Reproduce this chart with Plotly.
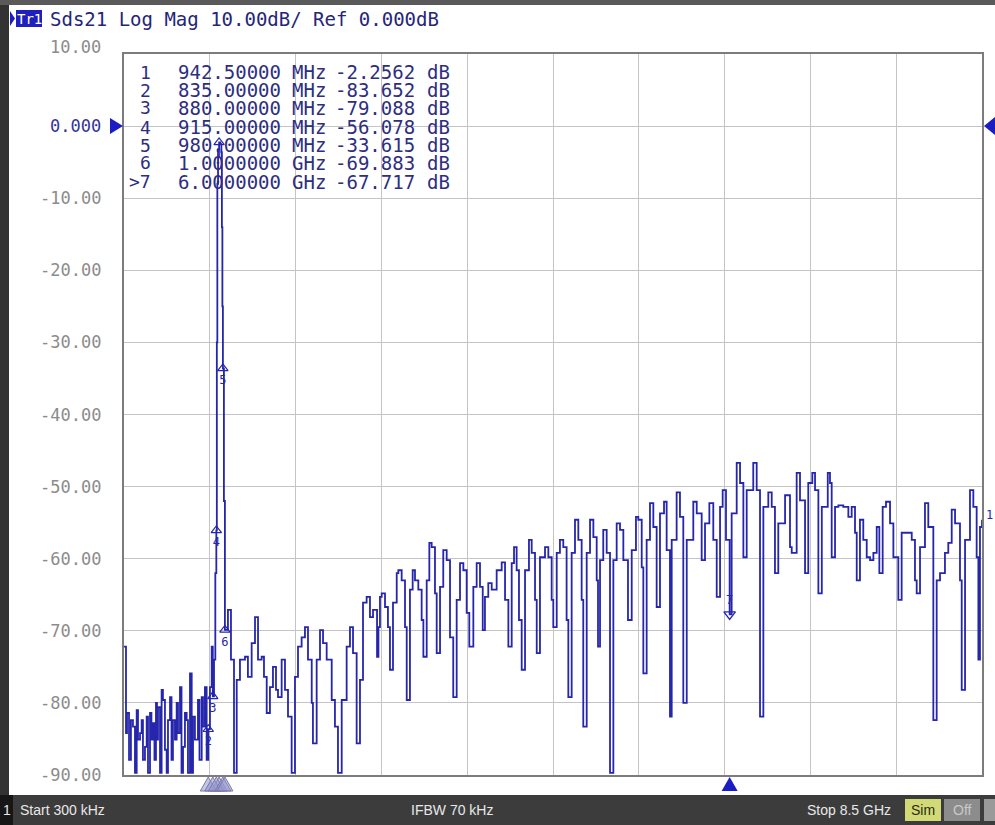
import plotly.graph_objects as go

# ---------------- data ----------------
start_ghz = 0.0003
stop_ghz = 8.5

freq_ghz = [
    0.0003, 0.010, 0.020, 0.030, 0.050, 0.069, 0.089, 0.109, 0.126, 0.139,
    0.159, 0.175, 0.188, 0.208, 0.225, 0.238, 0.258, 0.272, 0.287, 0.302,
    0.317, 0.327, 0.337, 0.357, 0.373, 0.386, 0.406, 0.423, 0.436, 0.456,
    0.471, 0.485, 0.505, 0.522, 0.535, 0.555, 0.570, 0.585, 0.604, 0.621,
    0.634, 0.654, 0.671, 0.684, 0.703, 0.733, 0.748, 0.770, 0.783, 0.802,
    0.819, 0.835, 0.852, 0.869, 0.880, 0.892, 0.905, 0.915, 0.920, 0.925,
    0.932, 0.9425, 0.955, 0.965, 0.970, 0.975, 0.980, 0.990, 1.000,
    1.030, 1.060, 1.090, 1.117, 1.149, 1.199, 1.228, 1.265, 1.298, 1.328,
    1.364, 1.387, 1.414, 1.446, 1.476, 1.506, 1.526, 1.562, 1.595, 1.625,
    1.661, 1.694, 1.724, 1.760, 1.793, 1.823, 1.860, 1.872, 1.909, 1.942,
    1.972, 2.008, 2.058, 2.090, 2.120, 2.157, 2.206, 2.239, 2.269, 2.305,
    2.338, 2.368, 2.404, 2.437,
    2.467, 2.507, 2.521, 2.536, 2.553, 2.586, 2.615, 2.635, 2.665, 2.702,
    2.718, 2.751, 2.784, 2.801, 2.833, 2.860, 2.883, 2.916, 2.949, 2.966,
    2.999, 3.025, 3.048, 3.081, 3.098, 3.131, 3.163, 3.197, 3.230, 3.262,
    3.296, 3.329, 3.362, 3.395, 3.421, 3.461, 3.494, 3.527, 3.554, 3.576,
    3.609, 3.643, 3.692, 3.742, 3.775, 3.808, 3.841, 3.864, 3.890, 3.913,
    3.940, 3.973, 4.012, 4.039, 4.072, 4.089, 4.121, 4.171, 4.204, 4.237,
    4.253, 4.287, 4.319, 4.352, 4.385, 4.402, 4.435, 4.468, 4.501, 4.534,
    4.550, 4.584, 4.617, 4.650, 4.683, 4.696, 4.716, 4.748, 4.782, 4.815,
    4.848, 4.881, 4.914, 4.947, 4.993,
    5.030, 5.072, 5.095, 5.129, 5.145, 5.178, 5.211, 5.244, 5.277, 5.310,
    5.350, 5.376, 5.409, 5.426, 5.475, 5.508, 5.541, 5.575, 5.640, 5.674,
    5.723, 5.756, 5.799, 5.838, 5.872, 5.905, 5.931, 5.964, 6.000, 6.020,
    6.070, 6.103, 6.136, 6.169, 6.234, 6.268, 6.301, 6.334, 6.383, 6.417,
    6.449, 6.482, 6.549, 6.598, 6.615, 6.664, 6.697, 6.747, 6.779, 6.819,
    6.846, 6.879, 6.913, 6.972, 6.994, 7.011, 7.044, 7.077, 7.126, 7.176,
    7.209, 7.242, 7.259, 7.291, 7.324, 7.358, 7.391, 7.424, 7.457, 7.483,
    7.516, 7.549, 7.589, 7.622, 7.671, 7.704, 7.770, 7.804, 7.836, 7.853,
    7.886, 7.935, 7.968, 8.018, 8.051, 8.084, 8.133, 8.166, 8.200, 8.233,
    8.282, 8.299, 8.332, 8.381, 8.414, 8.447, 8.464, 8.480, 8.500,
]

s21_db = [
    -72.2, -72.2, -84.2, -81.4, -87.9, -82.4, -83.3, -89.7, -81.0, -85.1,
    -84.2, -82.4, -87.9, -86.1, -81.9, -89.7, -81.4, -85.1, -82.8, -87.9,
    -80.0, -85.1, -80.6, -89.7, -78.2, -79.6, -86.5, -89.7, -82.4, -79.2,
    -87.9, -82.4, -85.1, -80.0, -84.2, -77.8, -89.7, -86.1, -81.4, -82.4,
    -89.7, -75.9, -89.7, -81.9, -85.1, -79.6, -87.9, -79.2, -83.3, -77.8,
    -87.9, -83.65, -77.8, -72.2, -79.09, -74.0, -62.0, -56.08, -30.0, -8.0,
    -3.2, -2.26, -2.5, -3.6, -14.0, -25.0, -33.62, -52.0, -69.88,
    -67.1, -74.0, -89.7, -76.8, -74.0, -73.6, -76.4, -71.7, -68.1, -74.0,
    -73.6, -76.4, -81.4, -77.8, -75.0, -78.2, -79.2, -74.0, -78.2, -81.9,
    -89.7, -76.4, -72.2, -70.9, -69.5, -74.0, -80.0, -85.6, -74.0, -69.9,
    -71.7, -74.0, -79.6, -83.3, -89.7, -79.6, -72.2, -69.5, -73.1, -85.6,
    -76.8, -66.1, -65.3, -68.1,
    -67.1, -73.6, -69.5, -65.3, -64.8, -66.7, -69.5, -75.4, -66.1, -62.0,
    -61.6, -63.0, -69.5, -79.6, -64.3, -61.6, -63.0, -64.3, -68.5, -73.6,
    -63.0, -57.8, -58.4, -64.8, -73.1, -63.9, -58.8, -60.2, -70.9, -79.2,
    -65.7, -60.6, -61.6, -67.5, -72.2, -63.9, -60.6, -63.9, -69.9, -65.3,
    -63.4, -64.3, -61.6, -60.5, -65.7, -72.2, -60.6, -58.4, -61.6, -68.5,
    -75.4, -61.6, -57.4, -59.2, -65.7, -73.1, -59.8, -58.4, -59.8, -65.7,
    -69.5, -59.2, -57.4, -58.4, -68.5, -79.2, -59.2, -54.6, -57.4, -65.7,
    -83.3, -59.2, -54.6, -57.0, -63.0, -72.2, -60.2, -56.0, -59.2, -89.7,
    -60.2, -55.1, -56.0, -60.2, -68.5,
    -58.8, -54.2, -54.6, -61.2, -75.9, -57.4, -52.3, -55.6, -66.7, -53.7,
    -52.1, -58.8, -81.9, -57.4, -50.8, -54.2, -80.0, -57.4, -52.1, -53.7,
    -60.2, -55.1, -52.3, -57.4, -65.3, -52.8, -50.5, -57.4, -67.72, -53.7,
    -46.7, -49.5, -59.8, -50.5, -46.7, -50.5, -81.9, -52.8, -50.8, -52.8,
    -62.0, -55.1, -51.2, -58.4, -59.2, -48.1, -51.9, -62.0, -49.5, -48.1,
    -50.5, -64.8, -52.8, -48.1, -49.5, -59.8, -52.8, -52.6, -52.8, -54.2,
    -52.8, -56.4, -63.0, -54.6, -57.4, -59.8, -60.2, -59.2, -55.6, -62.0,
    -52.8, -52.1, -55.1, -59.8, -65.7, -56.4, -56.4, -57.4, -63.0, -64.8,
    -58.4, -52.3, -55.6, -82.4, -63.0, -62.0, -59.2, -57.8, -53.2, -55.1,
    -63.0, -78.2, -57.4, -50.5, -52.8, -59.8, -74.0, -55.6, -54.6,
]

marker_ids = ["1", "2", "3", "4", "5", "6", "7"]
marker_ghz = [0.9425, 0.835, 0.880, 0.915, 0.980, 1.000, 6.000]
marker_db = [-2.2562, -83.652, -79.088, -56.078, -33.615, -69.883, -67.717]
marker_freq_text = ["942.50000", "835.00000", "880.00000", "915.00000",
                    "980.00000", "1.0000000", "6.0000000"]
marker_unit = ["MHz", "MHz", "MHz", "MHz", "MHz", "GHz", "GHz"]
marker_val_text = ["-2.2562", "-83.652", "-79.088", "-56.078",
                   "-33.615", "-69.883", "-67.717"]

y_ticks = [10, 0, -10, -20, -30, -40, -50, -60, -70, -80, -90]
y_tick_text = ["10.00", "0.000", "-10.00", "-20.00", "-30.00", "-40.00",
               "-50.00", "-60.00", "-70.00", "-80.00", "-90.00"]

header_text = "Sds21 Log Mag 10.00dB/ Ref 0.000dB"
status_start = "Start 300 kHz"
status_ifbw = "IFBW 70 kHz"
status_stop = "Stop 8.5 GHz"

# ---------------- layout helpers ----------------
W, H = 995, 825
PL, PR, PT, PB = 124, 982, 54, 775
GHZ_PER_PX = (stop_ghz - start_ghz) / (PR - PL)


def px(x):
    return x / W


def py(y):
    return 1 - y / H


TRACE = "#2626ac"
MONO = "DejaVu Sans Mono"
SANS = "Liberation Sans"

fig = go.Figure()

fig.add_trace(go.Scatter(
    x=freq_ghz, y=s21_db, mode="lines",
    line=dict(color=TRACE, width=1.8, shape="hv"),
    hoverinfo="skip", showlegend=False))

# markers on trace (1-6: triangle, number below)
fig.add_trace(go.Scatter(
    x=marker_ghz[:6], y=marker_db[:6], mode="markers+text",
    marker=dict(symbol="triangle-up-open", size=9, color=TRACE,
                line=dict(width=1.2, color=TRACE)),
    text=marker_ids[:6], textposition="bottom center",
    textfont=dict(family=MONO, size=12, color=TRACE),
    hoverinfo="skip", showlegend=False))
# active marker 7: triangle down, number above
fig.add_trace(go.Scatter(
    x=marker_ghz[6:], y=marker_db[6:], mode="markers+text",
    marker=dict(symbol="triangle-down-open", size=10, color=TRACE,
                line=dict(width=1.4, color=TRACE)),
    text=marker_ids[6:], textposition="top center",
    textfont=dict(family=MONO, size=12, color=TRACE),
    hoverinfo="skip", showlegend=False))

step = (stop_ghz - start_ghz) / 10
grid_x = [start_ghz + i * step for i in range(11)]

fig.update_layout(
    width=W, height=H,
    margin=dict(l=0, r=0, t=0, b=0),
    paper_bgcolor="white", plot_bgcolor="white",
    showlegend=False,
    xaxis=dict(domain=[px(PL), px(PR)], range=[start_ghz, stop_ghz],
               tickvals=grid_x, showticklabels=False, ticks="",
               showgrid=True, gridcolor="#c4c4c4", gridwidth=1,
               zeroline=False, showline=True, linecolor="#7c7c7c",
               linewidth=1.5, mirror=True),
    yaxis=dict(domain=[py(PB), py(PT)], range=[-90, 10],
               tickvals=y_ticks, showticklabels=False, ticks="",
               showgrid=True, gridcolor="#c4c4c4", gridwidth=1,
               zeroline=False, showline=True, linecolor="#7c7c7c",
               linewidth=1.5, mirror=True),
)

shapes = []
annotations = []


def rect(x0, y0, x1, y1, color, line=None):
    shapes.append(dict(type="rect", xref="paper", yref="paper",
                       x0=px(x0), x1=px(x1), y0=py(y1), y1=py(y0),
                       fillcolor=color,
                       line=dict(width=0 if line is None else 1,
                                 color=line or color), layer="above"))


def tri(points, color):
    path = "M " + " L ".join(f"{px(x)},{py(y)}" for x, y in points) + " Z"
    shapes.append(dict(type="path", xref="paper", yref="paper", path=path,
                       fillcolor=color, line=dict(width=0), layer="above"))


def text(x, y, s, size, color, family=MONO, anchor="left", xref="paper",
         yref="paper", yshift=0, bg=None):
    a = dict(x=px(x) if xref == "paper" else x,
             y=py(y) if yref == "paper" else y,
             xref=xref, yref=yref, text=s, showarrow=False,
             xanchor=anchor, yanchor="middle", yshift=yshift,
             font=dict(family=family, size=size, color=color))
    if bg:
        a["bgcolor"] = bg
    annotations.append(a)


# stimulus markers below the grid (x in data units, y in paper units)
half_w = 8 * GHZ_PER_PX
for i, f in enumerate(marker_ghz):
    active = (i == 6)
    path = (f"M {f - half_w},{py(791)} L {f},{py(777)} "
            f"L {f + half_w},{py(791)} Z")
    shapes.append(dict(
        type="path", xref="x", yref="paper", path=path,
        fillcolor="#1c1cc4" if active else "rgba(150,150,210,0.55)",
        line=dict(width=0 if active else 1,
                  color="#1c1cc4" if active else "#7a7aa8"),
        layer="above"))

# window frame edges (left strip drawn as a path so it is surely filled)
shapes.append(dict(type="path", xref="paper", yref="paper",
                   path=f"M 0,0 L {px(9)},0 L {px(9)},1 L 0,1 Z",
                   fillcolor="#333333", line=dict(width=0), layer="above"))
rect(0, 0, 995, 5, "#5a5a5a")

# header
tri([(10, 11), (15, 18.5), (10, 26)], "#1c1cc4")
rect(16, 10, 42, 27, "#1f1fbf")
text(29, 19, "Tr1", 14, "white", anchor="center")
text(48, 19, header_text, 19, "#25257a")

# y tick labels
for v, s in zip(y_ticks, y_tick_text):
    col = "#34349a" if v == 0 else "#8c8c8c"
    text(103, 0, s, 17, col, anchor="right", yref="y",
         yshift=(7 if v == 10 else 0))
    annotations[-1]["y"] = v

# reference level pointers
tri([(110, 118), (123, 126), (110, 134)], "#1c1cc4")
tri([(995, 117), (984, 126), (995, 135)], "#1c1cc4")

# marker table
row_y = [72, 90, 108, 127, 145, 163, 182]
for i in range(7):
    num = (">" + marker_ids[i]) if i == 6 else marker_ids[i]
    col = "#2e2e80"
    text(153, row_y[i], num, 18, col, anchor="right")
    text(283, row_y[i], marker_freq_text[i], 19, col, anchor="right")
    text(290, row_y[i], marker_unit[i], 19, col)
    text(417, row_y[i], marker_val_text[i], 19, col, anchor="right")
    text(425, row_y[i], "dB", 19, col)

# trace end label
text(984, 515, "1", 12, TRACE)

# status bar
rect(0, 795, 995, 825, "#3c3c3c")
rect(0, 795, 13, 825, "#161616")
text(6.5, 810, "1", 14, "#e8e8e8", family=SANS, anchor="center")
text(18, 810, status_start, 14, "#e8e8e8", family=SANS)
text(452, 810, status_ifbw, 14, "#e8e8e8", family=SANS, anchor="center")
text(893, 810, status_stop, 14, "#e8e8e8", family=SANS, anchor="right")
rect(905, 799, 941, 821, "#d2da78")
text(923, 810, "Sim", 14, "#2a2a10", family=SANS, anchor="center")
rect(944, 799, 980, 821, "#8c8c8c")
text(962, 810, "Off", 14, "#c8c8c8", family=SANS, anchor="center")
rect(984, 799, 995, 821, "#9a9a9a")

fig.update_layout(shapes=shapes, annotations=annotations)

fig.write_html(
    "out.html",
    config={"displayModeBar": False},
    post_script="document.body.style.margin='0';"
                "document.body.style.overflow='hidden';")
